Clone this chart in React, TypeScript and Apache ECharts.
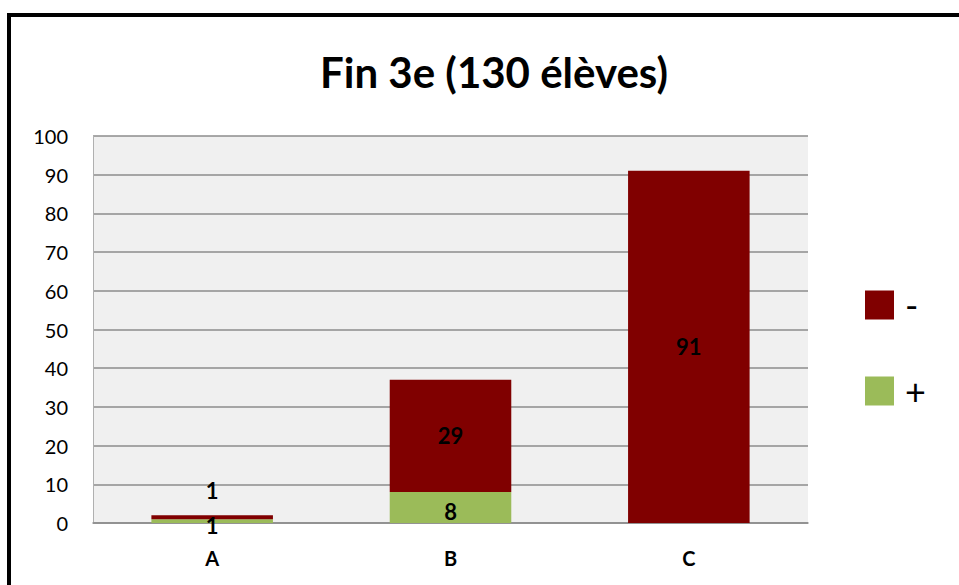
import React, { useEffect, useRef } from "react";
import * as echarts from "echarts";

const categories = ["A", "B", "C"];
const minusValues = [1, 29, 91];
const plusValues = [1, 8, 0];
const seriesNames = ["-", "+"];
const titleText = "Fin 3e (130 élèves)";

export default function App() {
  const ref = useRef<HTMLDivElement>(null);
  useEffect(() => {
    const chart = echarts.init(ref.current!, null, { renderer: "svg" });
    const font = "Lato, 'Open Sans', sans-serif";
    chart.setOption({
      animation: false,
      backgroundColor: "#ffffff",
      title: {
        text: titleText,
        left: 489,
        top: 46,
        textAlign: "center",
        textStyle: { fontFamily: font, fontWeight: "bold", fontSize: 42, color: "#000" },
      },
      legend: {
        orient: "vertical",
        left: 860,
        top: 282,
        itemWidth: 29,
        itemHeight: 29,
        itemGap: 50,
        icon: "rect",
        data: seriesNames,
        textStyle: { fontFamily: font, fontSize: 36, color: "#000", padding: [0, 0, 0, 6] },
      },
      grid: {
        left: 93,
        right: 959 - 808,
        top: 136,
        bottom: 585 - 523,
        show: true,
        backgroundColor: "#f0f0f0",
        borderWidth: 0,
      },
      xAxis: {
        type: "category",
        data: categories,
        axisLine: { show: true, lineStyle: { color: "#8c8c8c", width: 1.5 } },
        axisTick: { show: false },
        axisLabel: { margin: 25, fontFamily: font, fontWeight: "bold", fontSize: 20, color: "#000" },
      },
      yAxis: {
        type: "value",
        min: 0,
        max: 100,
        interval: 10,
        axisLine: { show: true, lineStyle: { color: "#b0b0b0", width: 1 } },
        axisTick: { show: false },
        axisLabel: { margin: 25, fontFamily: font, fontSize: 20, color: "#000" },
        splitLine: { show: true, lineStyle: { color: "#8c8c8c", width: 1.5 } },
      },
      series: [
        {
          name: "+",
          type: "bar",
          stack: "s",
          barWidth: "51%",
          itemStyle: { color: "#9bbb59" },
          data: plusValues.map((v) => v),
          label: {
            show: true,
            position: "inside",
            fontFamily: font,
            fontWeight: "bold",
            fontSize: 22,
            color: "#000",
            formatter: (p: any) => (p.value ? String(p.value) : ""),
            offset: [0, 4],
          },
          z: 3,
        },
        {
          name: "-",
          type: "bar",
          stack: "s",
          barWidth: "51%",
          itemStyle: { color: "#800000" },
          data: minusValues.map((v, i) =>
            i === 0
              ? { value: v, label: { position: "top", distance: 14 } }
              : { value: v }
          ),
          label: {
            show: true,
            position: "inside",
            fontFamily: font,
            fontWeight: "bold",
            fontSize: 22,
            color: "#000",
          },
          z: 3,
        },
      ],
      graphic: [
        {
          type: "rect",
          shape: { x: 9, y: 15, width: 1200, height: 1200 },
          style: { fill: "none", stroke: "#000", lineWidth: 4 },
          silent: true,
        },
      ],
    });
    return () => chart.dispose();
  }, []);
  return (
    <div
      ref={ref}
      style={{ position: "fixed", left: 0, top: 0, width: 959, height: 585 }}
    />
  );
}
